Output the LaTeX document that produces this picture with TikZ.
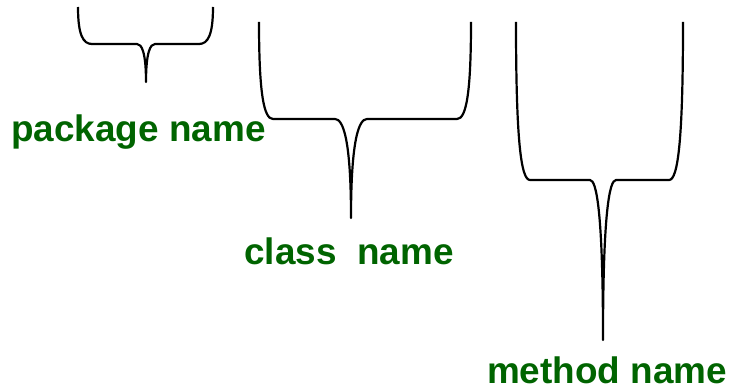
\documentclass[tikz,border=0pt]{standalone}
\usepackage{fontspec}
\setmainfont{Liberation Sans}
\definecolor{namegreen}{RGB}{0,100,0}

% downward brace: name, left, middle, right, top, bar, tip, half gap
\newcommand{\namebrace}[8]{%
  \draw[brace line] (#2,#5) .. controls (#2,{#5+0.75*(#6-#5)}) and ({#2+5},#6) .. ({#2+14},#6)
    -- ({#3-#8},#6) .. controls ({#3-#8/2},#6) and (#3,{#6+0.2*(#7-#6)}) .. (#3,#7)
    .. controls (#3,{#6+0.2*(#7-#6)}) and ({#3+#8/2},#6) .. ({#3+#8},#6)
    -- ({#4-14},#6) .. controls ({#4-5},#6) and (#4,{#5+0.75*(#6-#5)}) .. (#4,#5);
  \coordinate (#1) at (#3,#7);
}

\begin{document}
\begin{tikzpicture}[x=1pt, y=-1pt,
    brace line/.style={line width=2.2pt, line join=round},
    name label/.style={text=namegreen, anchor=base, inner sep=0pt,
      font=\fontsize{36.9}{40}\selectfont\bfseries}]
    \useasboundingbox (0,0) rectangle (730,390);

    \namebrace{pkgtip}{78}{146}{213}{7}{44}{82}{9}
    \namebrace{clstip}{259}{351}{471}{22}{119}{218}{16}
    \namebrace{mthtip}{516}{603}{683}{22}{180}{340}{13}

    \node[name label] (pkg) at (138.5,142) {package name};
    \node[name label] (cls) at (349,264) {class\ \ name};
    \node[name label] (mth) at (607,383) {method name};

\end{tikzpicture}
\end{document}
